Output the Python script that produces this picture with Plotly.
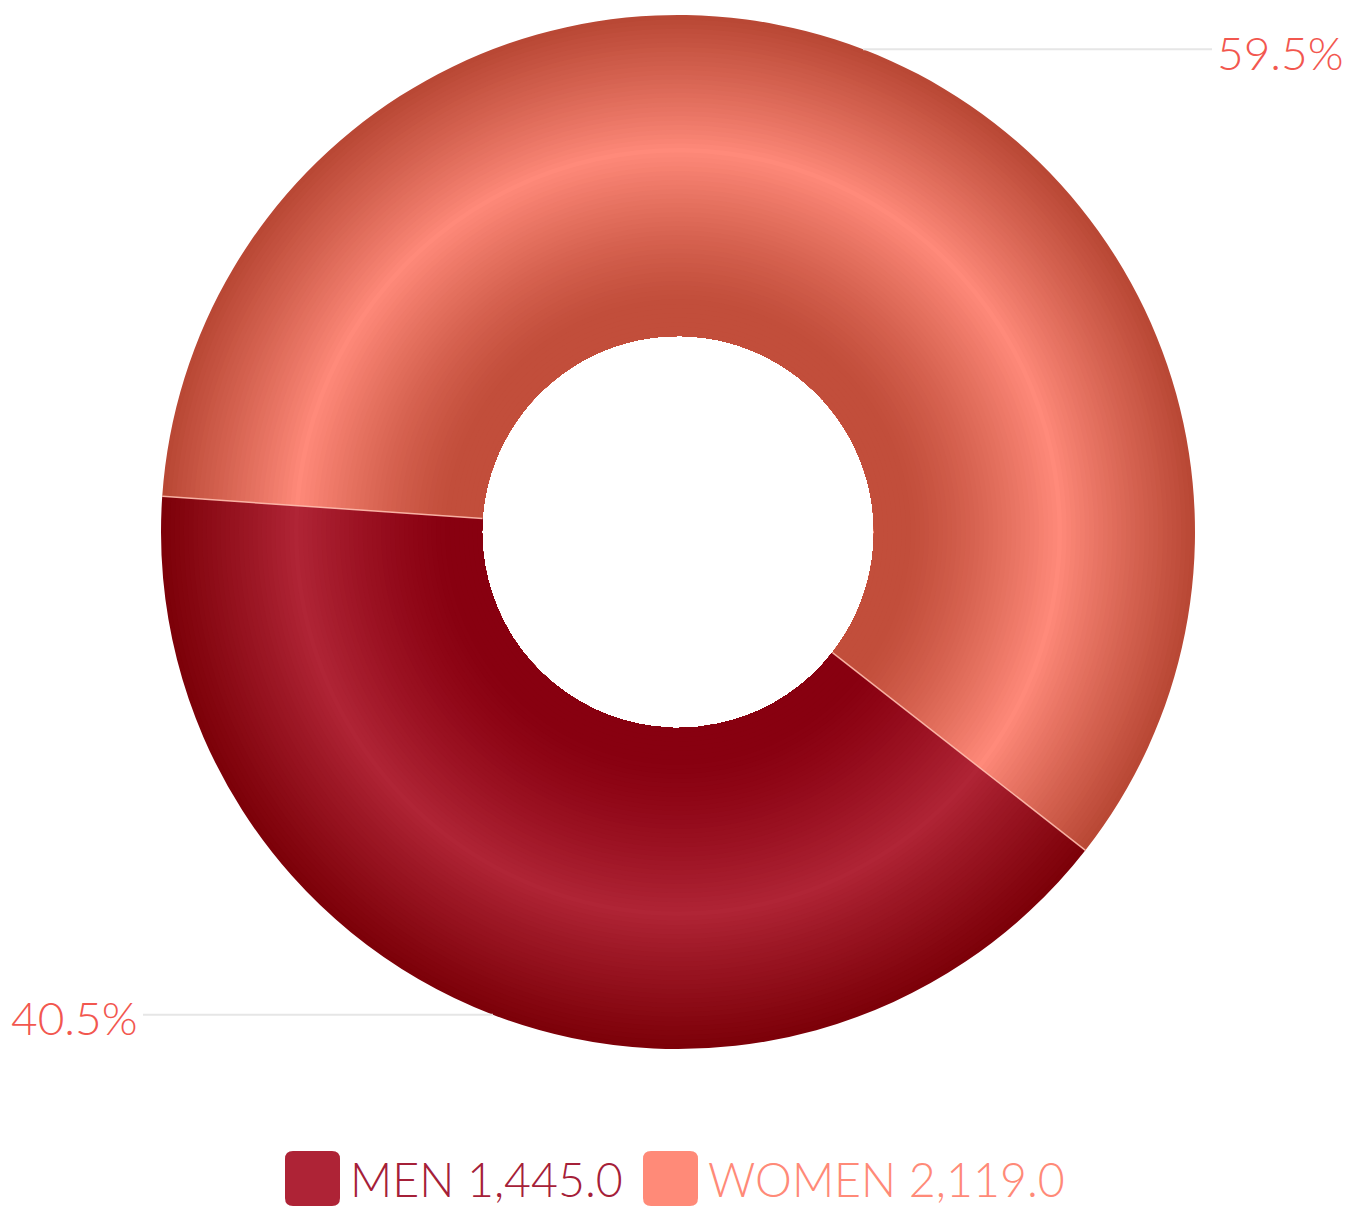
import math
import plotly.graph_objects as go

# ---- data ----
CATEGORIES = ["MEN", "WOMEN"]
VALUES = [1445.0, 2119.0]

# ---- style ----
W, H = 1346, 1209
CX, CY = 678, 532          # pie centre in px
R_OUT, R_IN = 517, 196     # outer / inner radius in px
ROTATION = 128             # degrees clockwise from 12 o'clock
DARK_IN = ["#880010", "#C24E3B"]
LIGHT = ["#B02536", "#FF8A7A"]
DARK_OUT = ["#7C0008", "#B84734"]
LEGEND_COLORS = ["#AE2336", "#FF8A78"]
LEGEND_TEXT = ["#A52038", "#FF8A78"]
LABEL_COLOR = "#F2574F"
LINE_COLOR = "#E6E6E6"
FONT = "Lato"
N_RINGS = 70


def hex2rgb(h):
    h = h.lstrip("#")
    return [int(h[i:i + 2], 16) for i in (0, 2, 4)]


def mix(a, b, w):
    a, b = hex2rgb(a), hex2rgb(b)
    return "rgb(%d,%d,%d)" % tuple(round(a[i] + (b[i] - a[i]) * w) for i in range(3))


def ring_color(i, t):
    # t: 0 inner edge -> 1 outer edge
    lo, peak = 0.10, 0.58
    if t <= lo:
        return DARK_IN[i]
    if t <= peak:
        w = (t - lo) / (peak - lo)
        w = w ** 1.3
        return mix(DARK_IN[i], LIGHT[i], w)
    w = (t - peak) / (1 - peak)
    w = w ** 0.9
    return mix(LIGHT[i], DARK_OUT[i], w)


def px2paper(x, y):
    return x / W, 1 - y / H


fig = go.Figure()
step = (R_OUT - R_IN) / N_RINGS
for k in range(N_RINGS):
    r = R_OUT - k * step
    t = (r - step / 2 - R_IN) / (R_OUT - R_IN)
    x0, y1 = px2paper(CX - r, CY - r)
    x1, y0 = px2paper(CX + r, CY + r)
    fig.add_trace(go.Pie(
        labels=CATEGORIES, values=VALUES, sort=False, direction="clockwise",
        rotation=ROTATION, hole=R_IN / r,
        domain=dict(x=[x0, x1], y=[y0, y1]),
        marker=dict(colors=[ring_color(i, t) for i in range(len(CATEGORIES))],
                    line=dict(width=0)),
        textinfo="none", showlegend=False, hoverinfo="label+value+percent",
    ))

total = sum(VALUES)
shapes, annotations = [], []
ang = ROTATION
for i, (cat, v) in enumerate(zip(CATEGORIES, VALUES)):
    span = 360 * v / total
    # slice boundary line
    a = math.radians(ang)
    xa, ya = px2paper(CX + R_IN * math.sin(a), CY - R_IN * math.cos(a))
    xb, yb = px2paper(CX + R_OUT * math.sin(a), CY - R_OUT * math.cos(a))
    shapes.append(dict(type="line", xref="paper", yref="paper", x0=xa, y0=ya, x1=xb, y1=yb,
                       line=dict(color="rgba(255,190,175,0.9)", width=1.5)))
    # leader line + label at mid angle
    mid = math.radians(ang + span / 2)
    px = CX + R_OUT * math.sin(mid)
    py = CY - R_OUT * math.cos(mid)
    right = math.sin(mid) > 0
    end_x = 1212 if right else 143
    p0 = px2paper(px, py)
    p1 = px2paper(end_x, py)
    shapes.append(dict(type="line", xref="paper", yref="paper", x0=p0[0], y0=p0[1],
                       x1=p1[0], y1=p1[1], line=dict(color=LINE_COLOR, width=2)))
    lx = end_x + 3 if right else end_x - 3
    annotations.append(dict(
        xref="paper", yref="paper", x=px2paper(lx, 0)[0], y=px2paper(0, py + 3)[1],
        xanchor="left" if right else "right", yanchor="middle",
        text="%.1f%%" % (100 * v / total), showarrow=False,
        font=dict(family=FONT, size=46, color=LABEL_COLOR, weight=300)))
    ang += span

# custom legend
legend_x = [285, 643]
for i, cat in enumerate(CATEGORIES):
    x0, x1 = legend_x[i], legend_x[i] + 55
    y0, y1 = 1151, 1206
    rr = 8
    path = ("M{a},{b} L{c},{b} Q{x1},{b} {x1},{d} L{x1},{e} Q{x1},{y1p} {c},{y1p} "
            "L{a},{y1p} Q{x0},{y1p} {x0},{e} L{x0},{d} Q{x0},{b} {a},{b} Z")
    P = px2paper
    ax, by = P(x0 + rr, y0)
    cxp, _ = P(x1 - rr, y0)
    _, dy = P(x0, y0 + rr)
    _, ey = P(x0, y1 - rr)
    x0p, _ = P(x0, 0)
    x1p, _ = P(x1, 0)
    _, y1p = P(0, y1)
    shapes.append(dict(type="path", xref="paper", yref="paper",
                       path=path.format(a=ax, b=by, c=cxp, d=dy, e=ey, x0=x0p, x1=x1p, y1p=y1p),
                       fillcolor=LEGEND_COLORS[i], line=dict(width=0)))
    annotations.append(dict(
        xref="paper", yref="paper", x=P(x1 + 8, 0)[0], y=0,
        xanchor="left", yanchor="bottom", showarrow=False,
        text="%s %s" % (cat, f"{VALUES[i]:,.1f}"),
        font=dict(family=FONT, size=46.5, color=LEGEND_TEXT[i], weight=300)))

fig.update_layout(
    width=W, height=H, autosize=False,
    margin=dict(l=0, r=0, t=0, b=0),
    paper_bgcolor="white", plot_bgcolor="white",
    shapes=shapes, annotations=annotations, showlegend=False,
)
fig.write_html("out.html", config={"displayModeBar": False},
               post_script="document.body.style.margin='0';document.body.style.overflow='hidden';")
